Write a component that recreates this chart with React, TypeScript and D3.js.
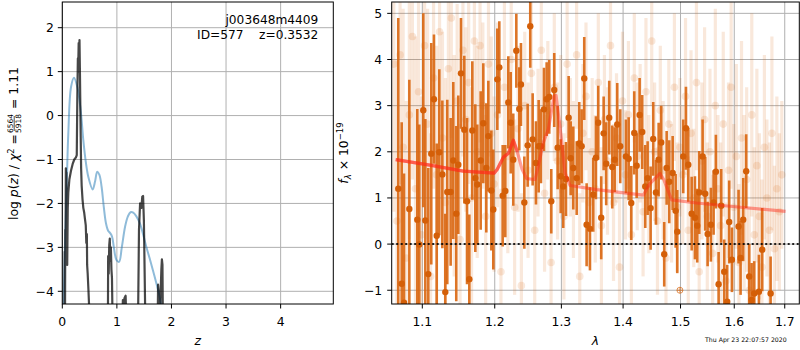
import * as d3 from "d3";

const FONT = "DejaVu Sans, sans-serif";

// ---- p(z) panel -------------------------------------------------------
const pzZ = [0.02, 0.03, 0.05, 0.08, 0.11, 0.16, 0.214, 0.275, 0.337, 0.385, 0.43, 0.476, 0.556, 0.6, 0.64, 0.68, 0.72, 0.76, 0.8, 0.84, 0.874, 0.91, 0.947, 0.99, 1.04, 1.09, 1.15, 1.2, 1.25, 1.3, 1.36, 1.42, 1.48, 1.54, 1.6, 1.66, 1.72, 1.77, 1.81, 1.83];
const pzLogp = [-4.4, -3.97, -2.9, -1.62, -0.41, 0.65, 0.86, 0.65, 0.12, -0.56, -1.05, -1.39, -1.68, -1.5, -1.28, -1.35, -1.62, -2.08, -2.45, -2.62, -2.67, -2.75, -3.02, -3.28, -3.33, -3.0, -2.53, -2.3, -2.2, -2.21, -2.3, -2.45, -2.7, -2.99, -3.25, -3.52, -3.8, -4.05, -4.3, -4.45];

// chi2 curve, NaN splits the separate islands
const chiZ = [0.04, 0.045, 0.05, 0.055, 0.06, 0.065, 0.07, 0.075, 0.08, 0.085, 0.09, 0.1, 0.11, 0.13, 0.16, 0.19, 0.22, 0.25, 0.265, 0.275, 0.285, 0.29, 0.3, 0.305, 0.315, 0.325, 0.335, 0.345, 0.355, 0.37, 0.385, 0.4, 0.415, 0.43, 0.44, 0.45, 0.455, 0.465, 0.48, 0.5, 0.51, NaN,
  0.835, 0.84, 0.85, 0.86, 0.87, 0.88, 0.89, 0.9, 0.91, 0.925, NaN,
  1.1, 1.11, 1.12, 1.14, 1.16, 1.17, NaN,
  1.385, 1.405, 1.425, 1.45, 1.465, 1.48, 1.495, 1.51, 1.525, NaN,
  1.745, 1.755, 1.77, 1.79, 1.815, 1.825, 1.835, 1.845];
const chiV = [-5.0, -3.1, -4.4, -2.6, -3.3, -1.2, -2.3, -1.3, -3.0, -1.9, -3.4, -2.1, -1.75, -1.45, -1.25, -1.1, -1.0, -0.95, -0.9, 0.4, 1.3, 1.0, 1.65, 1.2, 1.72, 0.8, -0.3, -1.2, -1.6, -1.9, -2.1, -2.2, -2.35, -2.5, -2.9, -2.7, -3.4, -3.6, -4.0, -4.6, -5.0, NaN,
  -5.0, -3.2, -3.6, -2.95, -2.8, -3.3, -3.0, -3.5, -3.7, -5.0, NaN,
  -4.6, -4.2, -4.3, -4.15, -4.1, -4.5, NaN,
  -5.0, -2.6, -2.0, -2.1, -1.85, -1.83, -2.4, -3.7, -5.0, NaN,
  -5.0, -3.85, -4.1, -4.5, -3.5, -3.27, -3.4, -5.0];

const zTicks = [0, 1, 2, 3, 4];
const pzTicks = [-4, -3, -2, -1, 0, 1, 2];

// ---- spectrum panel ---------------------------------------------------
const specLam = [1.0687, 1.0731, 1.0761, 1.083, 1.0934, 1.096, 1.1013, 1.104, 1.1079, 1.1119, 1.1155, 1.1192, 1.1227, 1.1268, 1.1308, 1.1335, 1.1381, 1.1417, 1.1458, 1.1486, 1.1523, 1.1569, 1.1607, 1.1639, 1.1681, 1.1723, 1.1751, 1.1799, 1.1836, 1.1879, 1.1908, 1.1951, 1.1979,
  1.2037, 1.2066, 1.2115, 1.2153, 1.2197, 1.2232, 1.227, 1.2315, 1.2359, 1.2384, 1.2434, 1.2484, 1.2523, 1.2559, 1.2609, 1.265, 1.2685, 1.2731, 1.2772, 1.2812, 1.2843, 1.2889, 1.2942, 1.2989,
  1.3029, 1.3072, 1.3114, 1.3146, 1.3187, 1.3241, 1.3282, 1.332, 1.3362, 1.34, 1.3454, 1.3507, 1.3551, 1.3588, 1.3637, 1.3677, 1.3719, 1.3769, 1.3819, 1.3859, 1.3902, 1.3952,
  1.4048, 1.4094, 1.4138, 1.4189, 1.423, 1.4281, 1.4326, 1.4378, 1.4419, 1.4471, 1.4516, 1.4564, 1.4611, 1.4656, 1.4709, 1.4752, 1.4798, 1.4859, 1.4912, 1.4941,
  1.5049, 1.5098, 1.514, 1.5202, 1.5262, 1.5304, 1.5341, 1.5403, 1.5451, 1.5496, 1.5557, 1.5608, 1.5651, 1.5702, 1.5751, 1.5808, 1.5865, 1.5903, 1.5955,
  1.6083, 1.6122, 1.6173, 1.6231, 1.629, 1.6337, 1.6388, 1.6481, 1.6546, 1.6714];
const specFlux = [1.2, -0.86, -1.27, 0.76, 0.53, -0.01, 2.9, 0.51, -0.65, 1.96, 3.14, 0.18, 1.99, 1.51, -1.04, 1.13, 1.13, 1.81, 0.66, 1.72, 3.7, 2.48, 0.93, -0.76, 2.46, 1.43, 1.29, 1.81, 2.62, 1.65, 2.34, 1.16, 0.75,
  3.57, 3.83, 1.05, 1.15, 3.07, 2.63, 1.83, 4.19, 2.93, 3.46, 0.9, 2.14, 4.72, 2.27, 1.76, 2.12, 2.12, 2.92, 3.14, 3.19, 0.93, 3.34, 2.09, 1.47,
  1.25, 1.41, 2.74, 1.86, 1.65, 1.43, 2.18, 2.12, 3.59, 0.42, 0.33, 1.07, 1.87, 2.63, 0.57, 2.4, 1.74, 2.74, 1.67, 1.83, 2.59, 2.12,
  1.9, 1.85, 0.89, 2.41, 1.7, 2.8, 2.43, 1.25, 1.43, 0.78, 2.28, 1.12, 1.83, 2.2, -0.22, 1.65, 1.35, 1.54, 0.72, 0.27,
  1.9, 2.51, 1.72, 0.66, 0.57, 0.4, 1.12, 1.9, 1.09, 0.22, 0.42, 0.9, 1.57, -0.87, 0.83, -0.6, -1.25, 0.48, -0.34,
  0.38, -0.3, 0.53, 1.58, -0.7, -1.21, -1.07, -1.03, -0.12, -1.07];
const specErr = [3.7, 3.5, 2.8, 2.8, 2.4, 2.6, 2.1, 2.2, 2.3, 2.4, 1.4, 2.0, 1.8, 1.6, 1.7, 2.0, 1.6, 1.7, 1.9, 1.5, 1.2, 1.6, 1.8, 1.4, 1.5, 1.6, 1.3, 1.5, 1.3, 1.4, 1.2, 1.3, 1.3,
  1.1, 1.0, 1.1, 1.0, 1.0, 1.1, 1.0, 0.8, 0.9, 0.9, 1.0, 0.9, 0.9, 1.0, 0.9, 1.0, 0.8, 0.9, 0.8, 0.8, 0.7, 0.8, 0.9, 0.8,
  0.9, 0.8, 0.9, 0.8, 0.9, 0.8, 0.9, 0.8, 0.9, 0.9, 0.9, 0.8, 0.9, 0.8, 0.9, 0.8, 0.9, 0.8, 0.9, 0.7, 0.9, 0.8,
  0.8, 0.9, 0.8, 0.9, 0.7, 0.8, 0.8, 0.9, 0.8, 0.9, 0.8, 0.7, 0.8, 0.8, 0.7, 0.8, 0.9, 0.8, 0.8, 0.9,
  0.8, 0.9, 0.8, 0.8, 0.9, 0.8, 0.9, 0.8, 0.8, 0.7, 0.8, 0.7, 0.8, 0.7, 0.8, 0.7, 0.8, 0.9, 0.7,
  0.8, 0.8, 0.9, 0.8, 0.7, 0.8, 0.7, 0.8, 0.9, 0.8];

// the other orientations, drawn faintly behind
const fadeLam = [1.063, 1.067, 1.071, 1.075, 1.079, 1.083, 1.087, 1.091, 1.095, 1.099, 1.103, 1.107, 1.111, 1.115, 1.119, 1.123, 1.127, 1.131, 1.135, 1.139, 1.143, 1.147, 1.151, 1.155, 1.159, 1.163, 1.167, 1.171, 1.175, 1.179, 1.183, 1.187, 1.191, 1.195, 1.199,
  1.204, 1.209, 1.214, 1.219, 1.224, 1.229, 1.234, 1.239, 1.244, 1.249, 1.254, 1.259, 1.264, 1.269, 1.274, 1.279, 1.284, 1.289, 1.294, 1.299, 1.304, 1.309, 1.314, 1.319, 1.324, 1.329, 1.334, 1.339, 1.344, 1.349,
  1.354, 1.359, 1.364, 1.369, 1.374, 1.379, 1.384, 1.389, 1.394, 1.399, 1.404, 1.409, 1.414, 1.419, 1.424, 1.429, 1.434, 1.439, 1.444, 1.449, 1.454, 1.459, 1.464, 1.469, 1.474, 1.479, 1.484, 1.489, 1.494, 1.499,
  1.504, 1.509, 1.514, 1.519, 1.524, 1.529, 1.534, 1.539, 1.544, 1.549, 1.554, 1.559, 1.564, 1.569, 1.574, 1.579, 1.584, 1.589, 1.594, 1.599, 1.604, 1.609, 1.614, 1.619, 1.624, 1.629, 1.634, 1.639, 1.644, 1.649, 1.654, 1.659, 1.664, 1.669, 1.674, 1.679, 1.684, 1.689, 1.694];
const fadeFlux = [3.9, 0.5, 4.1, 2.1, -0.3, 2.8, 4.5, 1.2, 3.3, 0.2, 4.3, 2.6, -0.7, 3.6, 1.5, 4.6, 2.3, 0.9, 3.8, 4.9, 1.7, 3.1, 0.1, 4.2, 2.7, 3.5, 1.0, 4.4, 2.0, 4.3, 3.0, 0.6, 3.9, 2.4, 1.3,
  2.8, -0.6, 3.4, 1.9, 4.0, 0.8, 2.5, -0.9, 3.0, 1.6, 3.7, 0.3, 2.2, 4.2, 1.1, 2.9, -0.4, 3.4, 1.8, 2.6, 0.6, 3.9, 2.1, 1.4, 4.1, -0.7, 2.4, 3.2, 0.9, 2.0,
  1.2, 3.5, 0.4, 2.7, 1.8, 4.3, 0.9, 2.3, -0.5, 3.1, 1.5, 2.8, 0.2, 3.6, 1.9, 2.4, 0.7, 3.3, 1.3, 4.4, 2.0, 0.5, 2.9, 1.6, -0.3, 2.6, 1.1, 3.4, 0.8, 2.1,
  1.5, 3.2, 0.3, 2.4, 1.0, 3.5, -0.6, 1.8, 2.7, 0.6, 2.0, -0.2, 3.0, 1.2, 0.4, 2.6, -0.8, 1.6, 3.4, 0.8, 1.9, -0.4, 2.3, 0.9, 1.4, -1.0, 2.8, 0.2, 1.7, 0.6, -0.5, 2.1, 1.0, 0.3, 2.4, -0.1, 1.2, 0.7, 1.5];
const fadeErr = [3.2, 3.5, 2.8, 3.0, 3.4, 2.7, 3.1, 3.3, 2.6, 3.0, 2.9, 2.5, 3.1, 2.4, 2.8, 2.6, 2.3, 2.7, 2.2, 2.6, 2.4, 2.1, 2.5, 2.3, 2.0, 2.2, 2.4, 1.9, 2.3, 2.1, 1.8, 2.2, 2.0, 2.1, 1.9,
  2.0, 1.8, 1.9, 2.1, 1.7, 1.9, 1.8, 2.0, 1.6, 1.9, 1.7, 1.8, 1.6, 1.9, 1.7, 1.5, 1.8, 1.6, 1.7, 1.5, 1.8, 1.6, 1.5, 1.7, 1.6, 1.8, 1.5, 1.6, 1.4, 1.6,
  1.6, 1.5, 1.7, 1.4, 1.6, 1.5, 1.7, 1.4, 1.6, 1.5, 1.4, 1.6, 1.5, 1.4, 1.6, 1.5, 1.4, 1.6, 1.5, 1.4, 1.5, 1.6, 1.4, 1.5, 1.6, 1.4, 1.5, 1.6, 1.4, 1.5,
  1.5, 1.7, 1.6, 1.8, 1.5, 1.9, 1.6, 1.7, 2.0, 1.6, 1.8, 1.7, 2.1, 1.6, 1.8, 2.0, 1.7, 1.9, 2.2, 1.8, 2.0, 1.7, 2.1, 1.9, 2.0, 1.8, 2.2, 1.9, 2.1, 1.8, 1.9, 2.0, 1.7, 1.9, 2.1, 1.8, 2.0, 1.7, 1.6];

const modelLam = [1.0654, 1.1102, 1.1555, 1.1994, 1.2037, 1.2125, 1.22, 1.2271, 1.233, 1.24, 1.2469, 1.2595, 1.265, 1.2721, 1.28, 1.2886, 1.2917, 1.299, 1.3057, 1.3136, 1.3563, 1.4344, 1.445, 1.4635, 1.47, 1.4842, 1.5294, 1.5917, 1.7017];
const modelFlux = [1.83, 1.71, 1.58, 1.54, 1.62, 1.88, 1.97, 2.25, 2.0, 1.62, 1.42, 1.4, 1.72, 2.2, 2.5, 3.21, 3.22, 2.4, 1.55, 1.27, 1.18, 1.06, 1.3, 1.53, 1.4, 0.96, 0.89, 0.82, 0.71];
const modelBlueEnd = 1.235; // the overlapping grism part is drawn twice

const badLam = [1.4989];
const badFlux = [-1.0];

const lamTicks = [1.1, 1.2, 1.3, 1.4, 1.5, 1.6, 1.7];
const fluxTicks = [-1, 0, 1, 2, 3, 4, 5];

const W = 800;
const H = 350;
const PL = { x0: 62.3, x1: 333.3, y0: 2, y1: 304 };
const PR = { x0: 391.7, x1: 799.3, y0: 2, y1: 304 };
const FS = 12.4;
const GRID = "#b0b0b0";
const ORANGE = "#d9660f";

const fmt = (v: number) => (v < 0 ? `\u2212${Math.abs(v)}` : `${v}`);

export default function App() {
  const xz = d3.scaleLinear().domain([0, 4.965]).range([PL.x0, PL.x1]);
  const yz = d3.scaleLinear().domain([-4.289, 2.585]).range([PL.y1, PL.y0]);
  const xl = d3.scaleLog().domain([1.0603, 1.73]).range([PR.x0, PR.x1]);
  const yf = d3.scaleLinear().domain([-1.298, 5.246]).range([PR.y1, PR.y0]);

  const pzLine = d3
    .line<number>()
    .x((i) => xz(pzZ[i]))
    .y((i) => yz(pzLogp[i]))
    .curve(d3.curveCatmullRom.alpha(0.5));
  const chiLine = d3
    .line<number>()
    .defined((i) => !Number.isNaN(chiZ[i]))
    .x((i) => xz(chiZ[i]))
    .y((i) => yz(chiV[i]));
  const modelLine = d3
    .line<number>()
    .x((i) => xl(modelLam[i]))
    .y((i) => yf(modelFlux[i]));

  const modelIdx = modelLam.map((_d, i) => i);
  const modelBlueIdx = modelIdx.filter((i) => modelLam[i] <= modelBlueEnd);

  return (
    <svg
      width={W}
      height={H}
      viewBox={`0 0 ${W} ${H}`}
      style={{ position: "absolute", left: 0, top: 0, background: "#fff" }}
      fontFamily={FONT}
    >
      <defs>
        <clipPath id="clipL">
          <rect x={PL.x0} y={PL.y0} width={PL.x1 - PL.x0} height={PL.y1 - PL.y0} />
        </clipPath>
        <clipPath id="clipR">
          <rect x={PR.x0} y={PR.y0} width={PR.x1 - PR.x0} height={PR.y1 - PR.y0} />
        </clipPath>
      </defs>

      {/* ---------- left: p(z) ---------- */}
      <g>
        {zTicks.map((t) => (
          <line key={`gz${t}`} x1={xz(t)} x2={xz(t)} y1={PL.y0} y2={PL.y1} stroke={GRID} strokeWidth={1} />
        ))}
        {pzTicks.map((t) => (
          <line key={`gp${t}`} x1={PL.x0} x2={PL.x1} y1={yz(t)} y2={yz(t)} stroke={GRID} strokeWidth={1} />
        ))}
        <g clipPath="url(#clipL)">
          <path d={pzLine(pzZ.map((_d, i) => i)) ?? ""} fill="none" stroke="#1f77b4" strokeOpacity={0.5} strokeWidth={2} />
          <path d={chiLine(chiZ.map((_d, i) => i)) ?? ""} fill="none" stroke="#000" strokeOpacity={0.72} strokeWidth={2.2} strokeLinejoin="round" />
        </g>
        <rect x={PL.x0} y={PL.y0} width={PL.x1 - PL.x0} height={PL.y1 - PL.y0} fill="none" stroke="#000" strokeWidth={1} />
        {zTicks.map((t) => (
          <g key={`tz${t}`}>
            <line x1={xz(t)} x2={xz(t)} y1={PL.y1} y2={PL.y1 + 4.5} stroke="#000" />
            <text x={xz(t)} y={325.5} textAnchor="middle" fontSize={FS}>{fmt(t)}</text>
          </g>
        ))}
        {pzTicks.map((t) => (
          <g key={`tp${t}`}>
            <line x1={PL.x0 - 4.5} x2={PL.x0} y1={yz(t)} y2={yz(t)} stroke="#000" />
            <text x={PL.x0 - 8.5} y={yz(t)} dy="0.36em" textAnchor="end" fontSize={FS}>{fmt(t)}</text>
          </g>
        ))}
        <text x={(PL.x0 + PL.x1) / 2} y={345} textAnchor="middle" fontSize={FS} fontStyle="italic">z</text>
        <g transform="translate(18,153) rotate(-90)" fontSize={FS}>
          <text x={19} y={0} textAnchor="end">
            log <tspan fontStyle="italic">p</tspan>(<tspan fontStyle="italic">z</tspan>) / <tspan fontStyle="italic">χ</tspan>
            <tspan dy={-4.5} fontSize={8.5}>2</tspan>
            <tspan dy={4.5}> =</tspan>
          </text>
          <text x={29.5} y={-5} textAnchor="middle" fontSize={7.5}>6564</text>
          <line x1={22} x2={37} y1={-3.8} y2={-3.8} stroke="#000" strokeWidth={0.7} />
          <text x={29.5} y={3} textAnchor="middle" fontSize={7.5}>5918</text>
          <text x={44} y={0}>= 1.11</text>
        </g>
        <text x={318.3} y={24} textAnchor="end" fontSize={12.2}>j003648m4409</text>
        <text x={318.3} y={39.3} textAnchor="end" fontSize={12.2} style={{ whiteSpace: "pre" }}>{"ID=577    z=0.3532"}</text>
      </g>

      {/* ---------- right: spectrum ---------- */}
      <g>
        {lamTicks.map((t) => (
          <line key={`gl${t}`} x1={xl(t)} x2={xl(t)} y1={PR.y0} y2={PR.y1} stroke={GRID} strokeWidth={1} />
        ))}
        {fluxTicks.map((t) => (
          <line key={`gf${t}`} x1={PR.x0} x2={PR.x1} y1={yf(t)} y2={yf(t)} stroke={GRID} strokeWidth={1} />
        ))}
        <g clipPath="url(#clipR)">
          <g stroke={ORANGE} strokeOpacity={0.15} strokeWidth={3.2}>
            {fadeLam.map((l, i) => (
              <line key={`fb${i}`} x1={xl(l)} x2={xl(l)} y1={yf(fadeFlux[i] - fadeErr[i])} y2={yf(fadeFlux[i] + fadeErr[i])} />
            ))}
          </g>
          <g fill={ORANGE} fillOpacity={0.15}>
            {fadeLam.map((l, i) => (
              <circle key={`fd${i}`} cx={xl(l)} cy={yf(fadeFlux[i])} r={3.8} />
            ))}
          </g>
          <g stroke={ORANGE} strokeOpacity={0.9} strokeWidth={2.6}>
            {specLam.map((l, i) => (
              <line key={`sb${i}`} x1={xl(l)} x2={xl(l)} y1={yf(specFlux[i] - specErr[i])} y2={yf(specFlux[i] + specErr[i])} />
            ))}
          </g>
          <g fill="#d45f08">
            {specLam.map((l, i) => (
              <circle key={`sd${i}`} cx={xl(l)} cy={yf(specFlux[i])} r={3.2} />
            ))}
          </g>
          {badLam.map((l, i) => (
            <g key={`bad${i}`} stroke={ORANGE} strokeOpacity={0.7} strokeWidth={1}>
              <circle cx={xl(l)} cy={yf(badFlux[i])} r={3} fill="none" />
              <line x1={xl(l) - 3} x2={xl(l) + 3} y1={yf(badFlux[i])} y2={yf(badFlux[i])} />
              <line x1={xl(l)} x2={xl(l)} y1={yf(badFlux[i]) - 3} y2={yf(badFlux[i]) + 3} />
            </g>
          ))}
          <path d={modelLine(modelIdx) ?? ""} fill="none" stroke="#ff2a1a" strokeOpacity={0.45} strokeWidth={3.2} strokeLinejoin="round" />
          <path d={modelLine(modelBlueIdx) ?? ""} fill="none" stroke="#ff2a1a" strokeOpacity={0.5} strokeWidth={3.2} strokeLinejoin="round" />
          <line x1={PR.x0} x2={PR.x1} y1={yf(0)} y2={yf(0)} stroke="#000" strokeOpacity={0.85} strokeWidth={2} strokeDasharray="2,2.5" />
        </g>
        <rect x={PR.x0} y={PR.y0} width={PR.x1 - PR.x0} height={PR.y1 - PR.y0} fill="none" stroke="#000" strokeWidth={1} />
        {lamTicks.map((t) => (
          <g key={`tl${t}`}>
            <line x1={xl(t)} x2={xl(t)} y1={PR.y1} y2={PR.y1 + 4.5} stroke="#000" />
            <text x={xl(t)} y={325.5} textAnchor="middle" fontSize={FS}>{t.toFixed(1)}</text>
          </g>
        ))}
        {fluxTicks.map((t) => (
          <g key={`tf${t}`}>
            <line x1={PR.x0 - 4.5} x2={PR.x0} y1={yf(t)} y2={yf(t)} stroke="#000" />
            <text x={PR.x0 - 9.5} y={yf(t)} dy="0.36em" textAnchor="end" fontSize={FS}>{fmt(t)}</text>
          </g>
        ))}
        <text x={(PR.x0 + PR.x1) / 2} y={345} textAnchor="middle" fontSize={FS} fontStyle="italic">λ</text>
        <g transform="translate(348,153) rotate(-90)" fontSize={FS}>
          <text textAnchor="middle">
            <tspan fontStyle="italic">f</tspan>
            <tspan dy={3} fontSize={8.5} fontStyle="italic">λ</tspan>
            <tspan dy={-3}> × 10</tspan>
            <tspan dy={-5} fontSize={8.5}>−19</tspan>
          </text>
        </g>
        <text x={786.7} y={342} textAnchor="end" fontSize={6.2}>Thu Apr 23 22:07:57 2020</text>
      </g>
    </svg>
  );
}
